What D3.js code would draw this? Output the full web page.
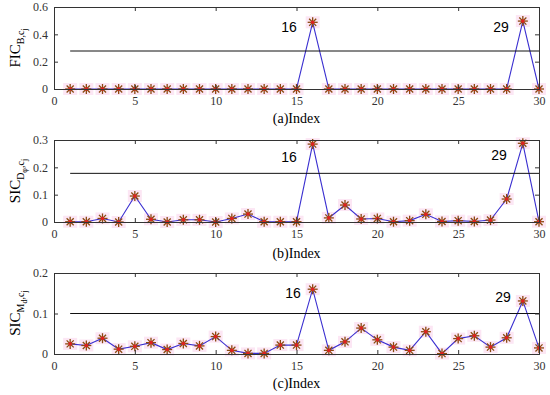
<!DOCTYPE html>
<html>
<head>
<meta charset="utf-8">
<script src="https://cdn.jsdelivr.net/npm/d3@7"></script>
<style>
  body { margin: 0; background: #fff; }
  svg { display: block; }
  .tick text { font-family: "Liberation Serif", "DejaVu Serif", serif; font-size: 12px; fill: #333; }
</style>
</head>
<body>
<div id="chart"></div>
<script>
// index 1..30
const indexes = d3.range(1, 31);

// (a) FIC values
const ficValues = [0, 0, 0, 0, 0, 0, 0, 0, 0, 0, 0, 0, 0, 0, 0,
  0.488, 0, 0, 0, 0, 0, 0, 0, 0, 0, 0, 0, 0, 0.497, 0];
// (b) SIC D values
const sicDValues = [0.001, 0.001, 0.013, 0, 0.095, 0.010, 0, 0.008, 0.008, 0,
  0.013, 0.029, 0.001, 0.001, 0.001, 0.285, 0.015, 0.062, 0.011, 0.013,
  0.001, 0.005, 0.028, 0.002, 0.005, 0.002, 0.007, 0.084, 0.288, 0.001];
// (c) SIC M values
const sicMValues = [0.025, 0.021, 0.039, 0.012, 0.019, 0.028, 0.011, 0.026, 0.020, 0.043,
  0.009, 0.0015, 0.0015, 0.022, 0.022, 0.160, 0.009, 0.030, 0.064, 0.035,
  0.017, 0.009, 0.055, 0.001, 0.038, 0.045, 0.017, 0.040, 0.131, 0.015];

const thresholds = [0.278, 0.178, 0.1];
const yMaxes = [0.6, 0.3, 0.2];
const yTicks = [[0, 0.2, 0.4, 0.6], [0, 0.1, 0.2, 0.3], [0, 0.1, 0.2]];
const xTicks = [0, 5, 10, 15, 20, 25, 30];
const xLabels = ["(a)Index", "(b)Index", "(c)Index"];
const peakLabels = ["16", "29"];

const width = 550, height = 395;
const svg = d3.select("#chart").append("svg")
  .attr("width", width)
  .attr("height", height);

const left = 54, right = 539;
const panels = [
  { top: 7, bottom: 89, values: ficValues, labels: [[289, 27], [501, 27]], xlabY: 118 },
  { top: 140, bottom: 222, values: sicDValues, labels: [[289, 157], [499, 155]], xlabY: 253 },
  { top: 273, bottom: 354, values: sicMValues, labels: [[293, 293], [503, 297]], xlabY: 383 }
];

const x = d3.scaleLinear().domain([0, 30]).range([left, right]);

function halo(g, cx, cy) {
  g.append("rect")
    .attr("x", cx - 7).attr("y", cy - 6)
    .attr("width", 14).attr("height", 12)
    .attr("fill", "#fce6f4");
}

function asterisk(g, cx, cy) {
  const r = 5;
  const s = g.append("g").attr("stroke", "#8a4a10").attr("stroke-width", 1.3);
  [0, 45, 90, 135].forEach(a => {
    const dx = r * Math.cos(a * Math.PI / 180), dy = r * Math.sin(a * Math.PI / 180);
    s.append("line").attr("x1", cx - dx).attr("y1", cy - dy).attr("x2", cx + dx).attr("y2", cy + dy);
  });
  g.append("circle").attr("cx", cx).attr("cy", cy).attr("r", 1.8).attr("fill", "#e02020");
}

panels.forEach((p, i) => {
  const y = d3.scaleLinear().domain([0, yMaxes[i]]).range([p.bottom, p.top]);
  const g = svg.append("g");

  // marker halos, then line, then markers
  const mk = g.append("g");
  p.values.forEach((v, k) => halo(mk, x(indexes[k]), y(v)));
  g.append("path")
    .datum(p.values)
    .attr("fill", "none")
    .attr("stroke", "#3a2fd0")
    .attr("stroke-width", 1.1)
    .attr("d", d3.line().x((d, k) => x(indexes[k])).y(d => y(d)));
  const mk2 = g.append("g");
  p.values.forEach((v, k) => asterisk(mk2, x(indexes[k]), y(v)));

  // threshold
  g.append("line")
    .attr("x1", x(1)).attr("x2", x(30))
    .attr("y1", y(thresholds[i])).attr("y2", y(thresholds[i]))
    .attr("stroke", "#111").attr("stroke-width", 1);

  // axes
  const xb = g.append("g").attr("transform", `translate(0,${p.bottom})`)
    .call(d3.axisBottom(x).tickValues(xTicks).tickSize(-4).tickPadding(7).tickFormat(d3.format("d")));
  const xt = g.append("g").attr("transform", `translate(0,${p.top})`)
    .call(d3.axisTop(x).tickValues(xTicks).tickSize(-4).tickFormat(""));
  const yl = g.append("g").attr("transform", `translate(${left},0)`)
    .call(d3.axisLeft(y).tickValues(yTicks[i]).tickSize(-4).tickPadding(6).tickFormat(d => d === 0 ? "0" : d3.format(".1f")(d)));
  const yr = g.append("g").attr("transform", `translate(${right},0)`)
    .call(d3.axisRight(y).tickValues(yTicks[i]).tickSize(-4).tickFormat(""));
  [xb, xt, yl, yr].forEach(a => {
    a.select(".domain").attr("stroke", "#333").attr("stroke-width", 1);
    a.selectAll(".tick line").attr("stroke", "#333");
  });

  // peak labels
  p.labels.forEach((pos, k) => {
    g.append("text")
      .attr("x", pos[0]).attr("y", pos[1])
      .attr("text-anchor", "middle").attr("dy", "0.35em")
      .style("font-family", "Liberation Sans, Arial, sans-serif").style("font-size", "14px")
      .text(peakLabels[k]);
  });

  // x label
  g.append("text")
    .attr("x", (left + right) / 2).attr("y", p.xlabY)
    .attr("text-anchor", "middle").attr("dy", "0.35em")
    .style("font-family", "Liberation Serif, serif").style("font-size", "14px")
    .text(xLabels[i]);
});

// y labels (rotated, with subscripts)
function yLabel(cy, main, sub, sub2, sub3) {
  const t = svg.append("text")
    .attr("transform", `translate(20,${cy}) rotate(-90)`)
    .attr("text-anchor", "middle")
    .style("font-family", "Liberation Serif, serif").style("font-size", "15px");
  t.append("tspan").text(main);
  t.append("tspan").attr("dy", 4).style("font-size", "10px").text(sub);
  if (sub2) t.append("tspan").attr("dy", 3).style("font-size", "8px").text(sub2);
  t.append("tspan").attr("dy", sub2 ? -3 : 0).style("font-size", "10px").text(",c");
  t.append("tspan").attr("dy", 3).style("font-size", "8px").text(sub3);
}
yLabel(48, "FIC", "B", null, "j");
yLabel(181, "SIC", "D", "φ", "j");
yLabel(313, "SIC", "M", "d", "j");
</script>
</body>
</html>
